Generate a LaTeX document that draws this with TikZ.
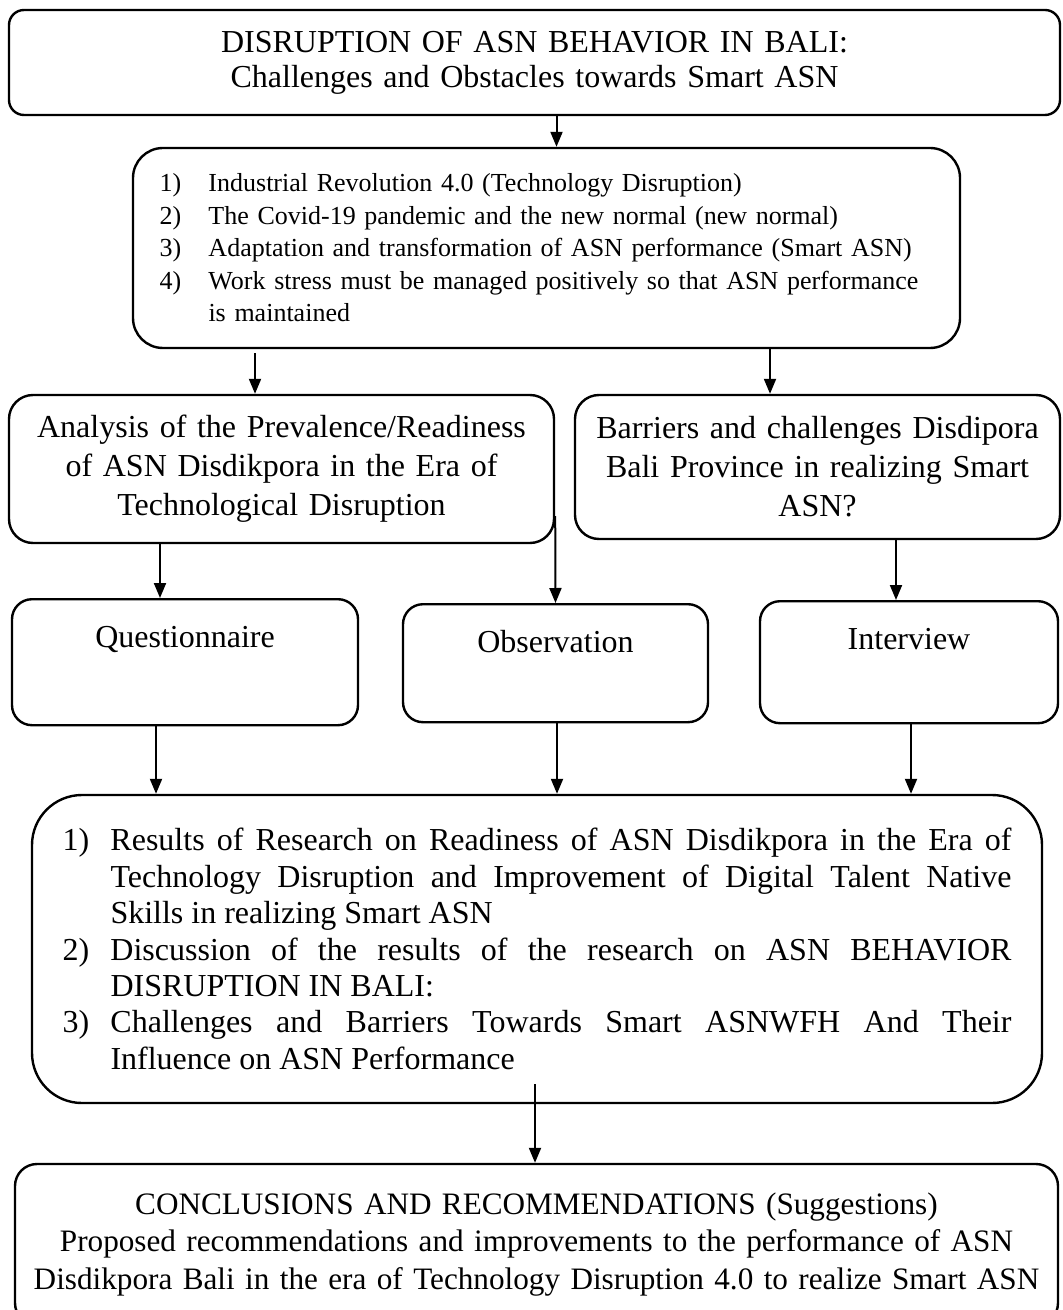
\documentclass[tikz,border=0pt]{standalone}
\usepackage{fontspec}
\setmainfont{Liberation Serif}
\usetikzlibrary{arrows.meta}

\newcommand{\numitem}[3]{\hangindent=#1\hangafter=1\noindent\makebox[#1][l]{#2}#3\par}

\begin{document}
\begin{tikzpicture}[x=0.5pt,y=-0.5pt,
  box/.style={draw,line width=1.2pt,rounded corners=#1},
  method/.style={box=10pt,anchor=north,inner ysep=13pt,text height=11pt,text depth=#1,align=center,font=\fontsize{16}{19}\selectfont},
  arr/.style={line width=1pt,-{Triangle[length=7.5pt,width=6pt]}}]

\useasboundingbox (0,0) rectangle (1062,1310);

\node[box=7.5pt,minimum width=525.5pt,minimum height=52.5pt,text width=500pt,align=center,font=\fontsize{16}{17.5}\selectfont] (title) at (534.5,62.5) {DISRUPTION OF ASN BEHAVIOR IN BALI:\\ Challenges and Obstacles towards Smart ASN};

\node[box=15pt,minimum width=413.5pt,minimum height=100pt,text width=387pt,align=left,font=\fontsize{13}{16.25}\selectfont] (items) at (546.5,248) {%
\numitem{24.5pt}{1)}{Industrial Revolution 4.0 (Technology Disruption)}
\numitem{24.5pt}{2)}{The Covid-19 pandemic and the new normal (new normal)}
\numitem{24.5pt}{3)}{Adaptation and transformation of ASN performance (Smart ASN)}
\numitem{24.5pt}{4)}{Work stress must be managed positively so that ASN performance is maintained}};

\node[box=12pt,minimum width=272.5pt,minimum height=74pt,text width=262pt,align=center,font=\fontsize{16}{19.5}\selectfont] (ana) at (281.5,469) {Analysis of the Prevalence/Readiness\\ of ASN Disdikpora in the Era of\\ Technological Disruption};
\node[box=12pt,minimum width=242.5pt,minimum height=72pt,text width=232pt,align=center,font=\fontsize{16}{19.5}\selectfont] (bar) at (817.5,467) {Barriers and challenges Disdipora\\ Bali Province in realizing Smart\\ ASN?};

\node[method=26pt,minimum width=173pt] (que) at (185,598) {Questionnaire};
\node[method=22pt,minimum width=152.5pt] (obs) at (555.5,603) {Observation};
\node[method=24pt,minimum width=149pt] (int) at (909,600) {Interview};

\node[box=25pt,minimum width=505pt,minimum height=154pt,text width=474.5pt,align=justify,font=\fontsize{16}{18.2}\selectfont] (res) at (537,949) {%
\numitem{24pt}{1)}{Results of Research on Readiness of ASN Disdikpora in the Era of\linebreak Technology Disruption and Improvement of Digital Talent Native\linebreak Skills in realizing Smart ASN}
\numitem{24pt}{2)}{Discussion of the results of the research on ASN BEHAVIOR\linebreak DISRUPTION IN BALI:}
\numitem{24pt}{3)}{Challenges and Barriers Towards Smart ASNWFH And Their\linebreak Influence on ASN Performance}};

\node[box=11pt,minimum width=521.5pt,minimum height=80.5pt,text width=518pt,inner xsep=1pt,align=center,font=\fontsize{15.6}{18.75}\selectfont] (concl) at (536.5,1244.5) {CONCLUSIONS AND RECOMMENDATIONS (Suggestions)\\ Proposed recommendations and improvements to the performance of ASN\\ \mbox{Disdikpora Bali in the era of Technology Disruption 4.0 to realize Smart ASN}};

\draw[arr] ([xshift=11pt]title.south) -- ([xshift=11pt]title.south |- items.north);
\draw[arr] ([xshift=-145.75pt,yshift=-2pt]items.south) -- ([xshift=-145.75pt]items.south |- ana.north);
\draw[arr] ([xshift=111.75pt]items.south) -- ([xshift=111.75pt]items.south |- bar.north);

\draw[arr] ([xshift=-60.75pt]ana.south) -- ([xshift=-60.75pt]ana.south |- que.north);
\draw[arr] ([yshift=14pt]ana.south east) -- (obs.north);
\draw[arr] ([xshift=39.25pt]bar.south) -- ([xshift=39.25pt]bar.south |- int.north);

\draw[arr] ([xshift=-14.5pt]que.south) -- ([xshift=-14.5pt]que.south |- res.north);
\draw[arr] ([xshift=0.75pt]obs.south) -- ([xshift=0.75pt]obs.south |- res.north);
\draw[arr] ([xshift=1pt]int.south) -- ([xshift=1pt]int.south |- res.north);

\draw[arr] ([xshift=-1pt,yshift=10pt]res.south) -- ([xshift=-1pt]res.south |- concl.north);

\end{tikzpicture}
\end{document}
